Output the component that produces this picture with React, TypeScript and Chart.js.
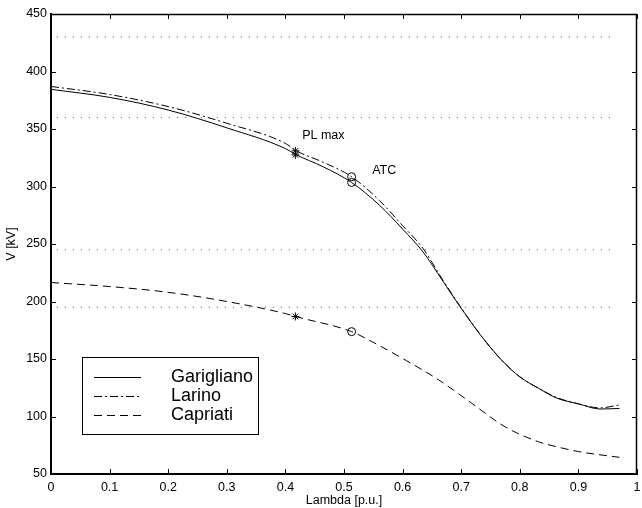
import React, { useEffect, useRef } from "react";
import { Chart, registerables } from "chart.js";
Chart.register(...registerables);

// ---- data ----
const lambdaG = [0, 0.1, 0.2, 0.3, 0.4, 0.417, 0.465, 0.513, 0.56, 0.6, 0.635, 0.667, 0.698, 0.735, 0.769, 0.8, 0.832, 0.863, 0.9, 0.937, 0.97];
const garigliano = [384.5, 377.5, 366.5, 351, 333, 328, 317, 303.5, 284, 263, 243, 219, 195.5, 169.5, 149, 134.5, 124.5, 116, 111, 106.5, 107];

const lambdaL = [0, 0.1, 0.2, 0.3, 0.4, 0.417, 0.465, 0.513, 0.56, 0.6, 0.635, 0.667, 0.698, 0.735, 0.769, 0.8, 0.832, 0.863, 0.9, 0.937, 0.97];
const larino = [387, 380, 369.5, 355, 337.5, 331.5, 321, 308.5, 288, 266, 246, 220, 196, 169.5, 149, 134.5, 124.5, 116.5, 111, 107.5, 110];

const lambdaC = [0, 0.1, 0.2, 0.3, 0.4, 0.417, 0.513, 0.548, 0.605, 0.662, 0.718, 0.775, 0.832, 0.863, 0.9, 0.97];
const capriati = [216.5, 213, 208, 200, 189.5, 187, 173.8, 165, 149, 131.7, 111.5, 91, 78, 73.7, 69.5, 64.5];

const limitLambda = [0.01, 0.965];
const limitValues = [430, 360, 245, 195];

const plMaxLambda = 0.417;
const plMaxValues = [327.5, 331, 187];
const atcLambda = 0.513;
const atcValues = [303.5, 308.5, 173.8];

const seriesNames = ["Garigliano", "Larino", "Capriati"];
const seriesDash: number[][] = [[], [8, 3, 2, 3], [8, 5]];

const annotationTexts = ["PL max", "ATC"];
const annotationLambda = [0.4286, 0.548];
const annotationValues = [344, 313.7];

const FONT = "'Liberation Sans', Arial, Helvetica, sans-serif";

const toXY = (xs: number[], ys: number[]) => xs.map((x, i) => ({ x, y: ys[i] }));

const overlay = {
  id: "overlay",
  afterDatasetsDraw(chart: any) {
    const { ctx, chartArea: a, scales } = chart;
    const xs = scales.x;
    const ys = scales.y;
    ctx.save();
    ctx.strokeStyle = "#000";
    ctx.lineWidth = 1.5;
    ctx.setLineDash([]);
    ctx.beginPath();
    ctx.moveTo(a.left, a.top + 0.5);
    ctx.lineTo(a.right, a.top + 0.5);
    ctx.moveTo(a.right - 0.5, a.top);
    ctx.lineTo(a.right - 0.5, a.bottom);
    ctx.stroke();

    ctx.lineWidth = 1;
    ctx.beginPath();
    xs.ticks.forEach((t: any) => {
      const px = Math.round(xs.getPixelForValue(t.value)) + 0.5;
      ctx.moveTo(px, a.bottom);
      ctx.lineTo(px, a.bottom - 5);
      ctx.moveTo(px, a.top);
      ctx.lineTo(px, a.top + 5);
    });
    ys.ticks.forEach((t: any) => {
      const py = Math.round(ys.getPixelForValue(t.value)) + 0.5;
      ctx.moveTo(a.left, py);
      ctx.lineTo(a.left + 5, py);
      ctx.moveTo(a.right, py);
      ctx.lineTo(a.right - 5, py);
    });
    ctx.stroke();

    // annotations
    ctx.fillStyle = "#000";
    ctx.font = `12.5px ${FONT}`;
    ctx.textAlign = "left";
    ctx.textBaseline = "middle";
    annotationTexts.forEach((txt, i) => {
      ctx.fillText(txt, xs.getPixelForValue(annotationLambda[i]), ys.getPixelForValue(annotationValues[i]));
    });

    // legend box
    const bx = a.left + 31, by = 357, bw = 176, bh = 77;
    ctx.fillStyle = "#fff";
    ctx.fillRect(bx, by, bw, bh);
    ctx.strokeStyle = "#000";
    ctx.lineWidth = 1;
    ctx.strokeRect(bx + 0.5, by + 0.5, bw, bh);
    ctx.font = `18px ${FONT}`;
    ctx.fillStyle = "#000";
    seriesNames.forEach((name, i) => {
      const cy = by + 19.5 + i * 19;
      ctx.setLineDash(seriesDash[i]);
      ctx.beginPath();
      ctx.moveTo(bx + 12, Math.round(cy) + 0.5);
      ctx.lineTo(bx + 59, Math.round(cy) + 0.5);
      ctx.stroke();
      ctx.setLineDash([]);
      ctx.fillText(name, bx + 89, cy + 1);
    });
    ctx.restore();
  },
};

export default function App() {
  const ref = useRef<HTMLCanvasElement>(null);
  useEffect(() => {
    document.body.style.margin = "0";
    const lineDs = (label: string, xs: number[], ys: number[], dash: number[]) => ({
      label,
      data: toXY(xs, ys),
      borderColor: "#000",
      borderWidth: 1,
      borderDash: dash,
      pointRadius: 0,
      fill: false,
      tension: 0,
      cubicInterpolationMode: "monotone" as const,
    });
    const datasets: any[] = [];
    limitValues.forEach((v) => {
      datasets.push({
        label: "limit",
        data: limitLambda.map((x) => ({ x, y: v })),
        borderColor: "#555",
        borderWidth: 1,
        borderDash: [1, 7],
        pointRadius: 0,
        fill: false,
      });
    });
    datasets.push(lineDs(seriesNames[0], lambdaG, garigliano, seriesDash[0]));
    datasets.push(lineDs(seriesNames[1], lambdaL, larino, seriesDash[1]));
    datasets.push(lineDs(seriesNames[2], lambdaC, capriati, seriesDash[2]));
    datasets.push({
      type: "scatter",
      label: "PL max",
      data: plMaxValues.map((y) => ({ x: plMaxLambda, y })),
      pointStyle: "star",
      pointRadius: 4,
      borderColor: "#000",
      borderWidth: 1,
      showLine: false,
    });
    datasets.push({
      type: "scatter",
      label: "ATC",
      data: atcValues.map((y) => ({ x: atcLambda, y })),
      pointStyle: "circle",
      pointRadius: 4,
      borderColor: "#000",
      backgroundColor: "rgba(0,0,0,0)",
      borderWidth: 1,
      showLine: false,
    });

    const chart = new Chart(ref.current!, {
      type: "line",
      data: { datasets },
      options: {
        animation: false,
        responsive: false,
        maintainAspectRatio: false,
        layout: { padding: { left: 0, right: 3, top: 14, bottom: 0 } },
        plugins: { legend: { display: false }, tooltip: { enabled: false } },
        scales: {
          x: {
            type: "linear",
            min: 0,
            max: 1,
            ticks: {
              stepSize: 0.1,
              color: "#000",
              font: { family: FONT, size: 12.5 },
              padding: 6,
              maxRotation: 0,
              callback: (v: any) => String(Math.round(Number(v) * 10) / 10),
            },
            grid: { drawOnChartArea: false, drawTicks: false },
            border: { color: "#000", width: 2 },
            title: {
              display: true,
              text: "Lambda [p.u.]",
              color: "#000",
              font: { family: FONT, size: 12.5 },
              padding: { top: 0, bottom: 0 },
            },
            afterFit: (s: any) => {
              s.height = 34;
              s.paddingLeft = 0;
              s.paddingRight = 0;
            },
          },
          y: {
            type: "linear",
            min: 50,
            max: 450,
            ticks: {
              stepSize: 50,
              color: "#000",
              font: { family: FONT, size: 12.5 },
              padding: 4,
            },
            grid: { drawOnChartArea: false, drawTicks: false },
            border: { color: "#000", width: 2 },
            title: {
              display: true,
              text: "V [kV]",
              color: "#000",
              font: { family: FONT, size: 12.5 },
              padding: { top: 4, bottom: 0 },
            },
            afterFit: (s: any) => {
              s.width = 51;
              s.paddingTop = 0;
              s.paddingBottom = 0;
            },
          },
        },
      },
      plugins: [overlay],
    });
    return () => chart.destroy();
  }, []);
  return (
    <div style={{ position: "fixed", left: 0, top: 0, width: 642, height: 508, background: "#fff" }}>
      <canvas ref={ref} width={642} height={508} style={{ width: 642, height: 508 }} />
    </div>
  );
}
